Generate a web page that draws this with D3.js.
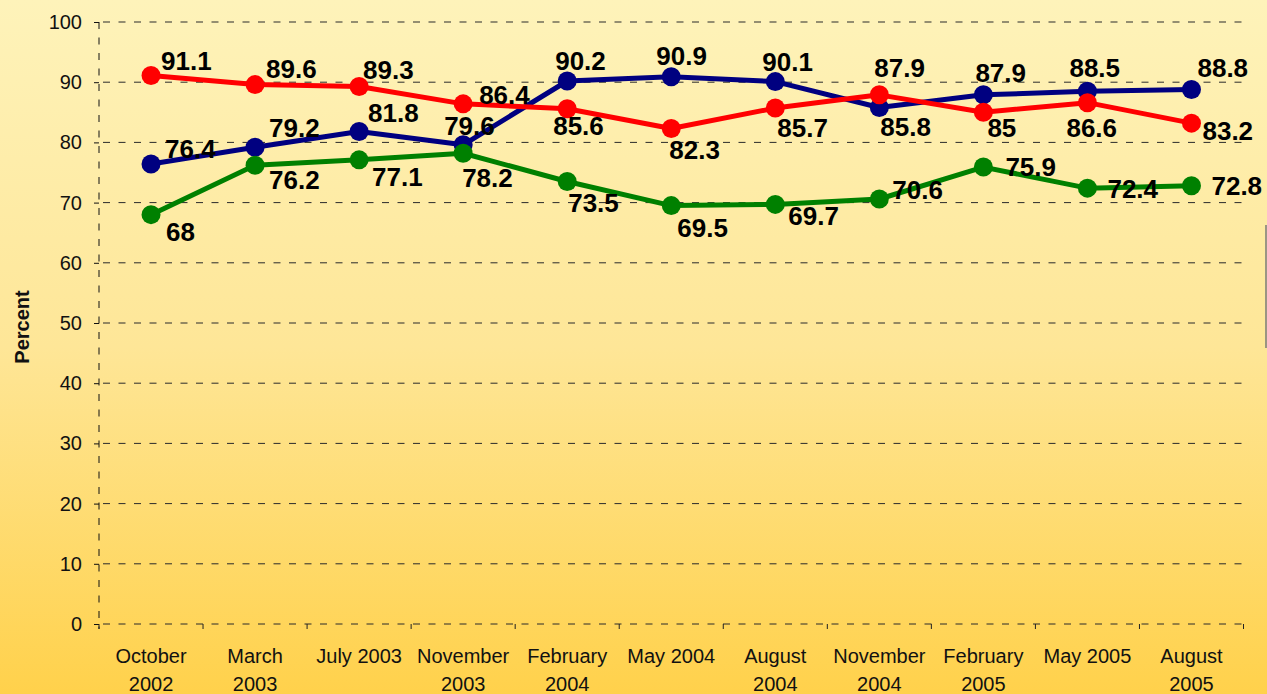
<!DOCTYPE html>
<html>
<head>
<meta charset="utf-8">
<script src="https://cdn.jsdelivr.net/npm/d3@7"></script>
<style>
  html, body { margin: 0; padding: 0; overflow: hidden; }
  svg { display: block; font-family: Arial, "Liberation Sans", sans-serif; }
</style>
</head>
<body>
<div id="chart"></div>
<script>
// Survey waves (x axis)
const categories = [
  "October 2002", "March 2003", "July 2003", "November 2003", "February 2004",
  "May 2004", "August 2004", "November 2004", "February 2005", "May 2005", "August 2005"
];
// Line-wrapped tick labels, as shown under the axis
const tickLines = [
  ["October", "2002"], ["March", "2003"], ["July 2003"], ["November", "2003"],
  ["February", "2004"], ["May 2004"], ["August", "2004"], ["November", "2004"],
  ["February", "2005"], ["May 2005"], ["August", "2005"]
];

// Series values (percent)
const navyValues = [76.4, 79.2, 81.8, 79.6, 90.2, 90.9, 90.1, 85.8, 87.9, 88.5, 88.8];
const redValues = [91.1, 89.6, 89.3, 86.4, 85.6, 82.3, 85.7, 87.9, 85, 86.6, 83.2];
const greenValues = [68, 76.2, 77.1, 78.2, 73.5, 69.5, 69.7, 70.6, 75.9, 72.4, 72.8];

const yTicks = [0, 10, 20, 30, 40, 50, 60, 70, 80, 90, 100];

// Data label nudges [dx, dy] from each point (left edge, baseline)
const navyLabelPos = [[14, -6], [14, -10], [9, -10], [-19, -10], [-12, -11], [-15, -12],
  [-13, -11], [1, 29], [-8, -13], [-18, -14], [6, -12]];
const redLabelPos = [[10, -6], [11, -7], [4, -7], [16, 0], [-14, 26], [-2, 30],
  [2, 29], [-5, -18], [4, 25], [-21, 34], [11, 17]];
const greenLabelPos = [[15, 26], [14, 24], [13, 26], [-1, 34], [1, 30], [6, 31],
  [13, 21], [13, 0], [22, 9], [20, 10], [20, 9]];

const width = 1267;
const height = 694;
const plot = { left: 99, right: 1243.5, top: 22, bottom: 624 };

const svg = d3.select("#chart")
  .append("svg")
  .attr("width", width)
  .attr("height", height);

// Background gradient
const defs = svg.append("defs");
const grad = defs.append("linearGradient")
  .attr("id", "bg")
  .attr("x1", 0).attr("y1", 0).attr("x2", 0).attr("y2", 1);
grad.append("stop").attr("offset", "0%").attr("stop-color", "#fef3ba");
grad.append("stop").attr("offset", "50%").attr("stop-color", "#fee697");
grad.append("stop").attr("offset", "100%").attr("stop-color", "#ffd14b");

svg.append("rect")
  .attr("width", width)
  .attr("height", height)
  .attr("fill", "url(#bg)");

const x = d3.scaleBand()
  .domain(categories)
  .range([plot.left, plot.right])
  .padding(0);

const y = d3.scaleLinear()
  .domain([0, 100])
  .range([plot.bottom, plot.top]);

const dash = "7,8.5";

// Horizontal gridlines
svg.append("g")
  .selectAll("line")
  .data(yTicks)
  .join("line")
  .attr("x1", plot.left + 4)
  .attr("x2", plot.right)
  .attr("y1", d => y(d))
  .attr("y2", d => y(d))
  .attr("stroke", "#2a2a2a")
  .attr("stroke-width", 1)
  .attr("stroke-dasharray", dash);

// Y axis (dashed line + ticks + labels)
const yAxis = svg.append("g")
  .attr("transform", `translate(${plot.left},0)`)
  .call(d3.axisLeft(y).tickValues(yTicks).tickSize(5).tickPadding(12));
yAxis.select(".domain")
  .attr("d", `M0,${plot.top}V${plot.bottom + 5}`)
  .attr("stroke", "#111")
  .attr("stroke-dasharray", dash);
yAxis.selectAll(".tick line").attr("stroke", "#111");
yAxis.selectAll(".tick text")
  .attr("font-size", 20)
  .attr("font-family", "Arial, 'Liberation Sans', sans-serif")
  .attr("fill", "#111");

// X axis ticks at category boundaries
const boundaries = categories.map(c => x(c)).concat([plot.right]);
svg.append("g")
  .selectAll("line")
  .data(boundaries)
  .join("line")
  .attr("x1", d => d)
  .attr("x2", d => d)
  .attr("y1", plot.bottom)
  .attr("y2", plot.bottom + 5)
  .attr("stroke", "#222");

// X category labels
const xLabels = svg.append("g")
  .selectAll("text")
  .data(categories)
  .join("text")
  .attr("x", d => x(d) + x.bandwidth() / 2)
  .attr("y", 663)
  .attr("text-anchor", "middle")
  .attr("font-size", 20)
  .attr("fill", "#111");
xLabels.selectAll("tspan")
  .data((d, i) => tickLines[i])
  .join("tspan")
  .attr("x", function () { return d3.select(this.parentNode).attr("x"); })
  .attr("dy", (d, i) => i === 0 ? 0 : 28)
  .text(d => d);

// Y axis title
svg.append("text")
  .attr("transform", "translate(29,327) rotate(-90)")
  .attr("text-anchor", "middle")
  .attr("font-size", 20)
  .attr("font-weight", "bold")
  .attr("fill", "#111")
  .text("Percent");

const series = [
  { values: navyValues, color: "#000080", labels: navyLabelPos },
  { values: redValues, color: "#ff0000", labels: redLabelPos },
  { values: greenValues, color: "#008000", labels: greenLabelPos }
];

const line = d3.line()
  .x((d, i) => x(categories[i]) + x.bandwidth() / 2)
  .y(d => y(d));

series.forEach(s => {
  const g = svg.append("g");
  g.append("path")
    .datum(s.values)
    .attr("d", line)
    .attr("fill", "none")
    .attr("stroke", s.color)
    .attr("stroke-width", 5)
    .attr("stroke-linejoin", "round");
  g.selectAll("circle")
    .data(s.values)
    .join("circle")
    .attr("cx", (d, i) => x(categories[i]) + x.bandwidth() / 2)
    .attr("cy", d => y(d))
    .attr("r", 9.5)
    .attr("fill", s.color);
});

// Data labels on top
series.forEach(s => {
  svg.append("g")
    .selectAll("text")
    .data(s.values)
    .join("text")
    .attr("x", (d, i) => x(categories[i]) + x.bandwidth() / 2 + s.labels[i][0])
    .attr("y", (d, i) => y(d) + s.labels[i][1])
    .attr("font-size", 26)
    .attr("font-weight", "bold")
    .attr("fill", "#000")
    .text(d => d);
});

// Thin grey edge mark at the right border
svg.append("line")
  .attr("x1", 1266).attr("x2", 1266)
  .attr("y1", 225).attr("y2", 348)
  .attr("stroke", "#7a7a7a")
  .attr("stroke-width", 1.5);
</script>
</body>
</html>
